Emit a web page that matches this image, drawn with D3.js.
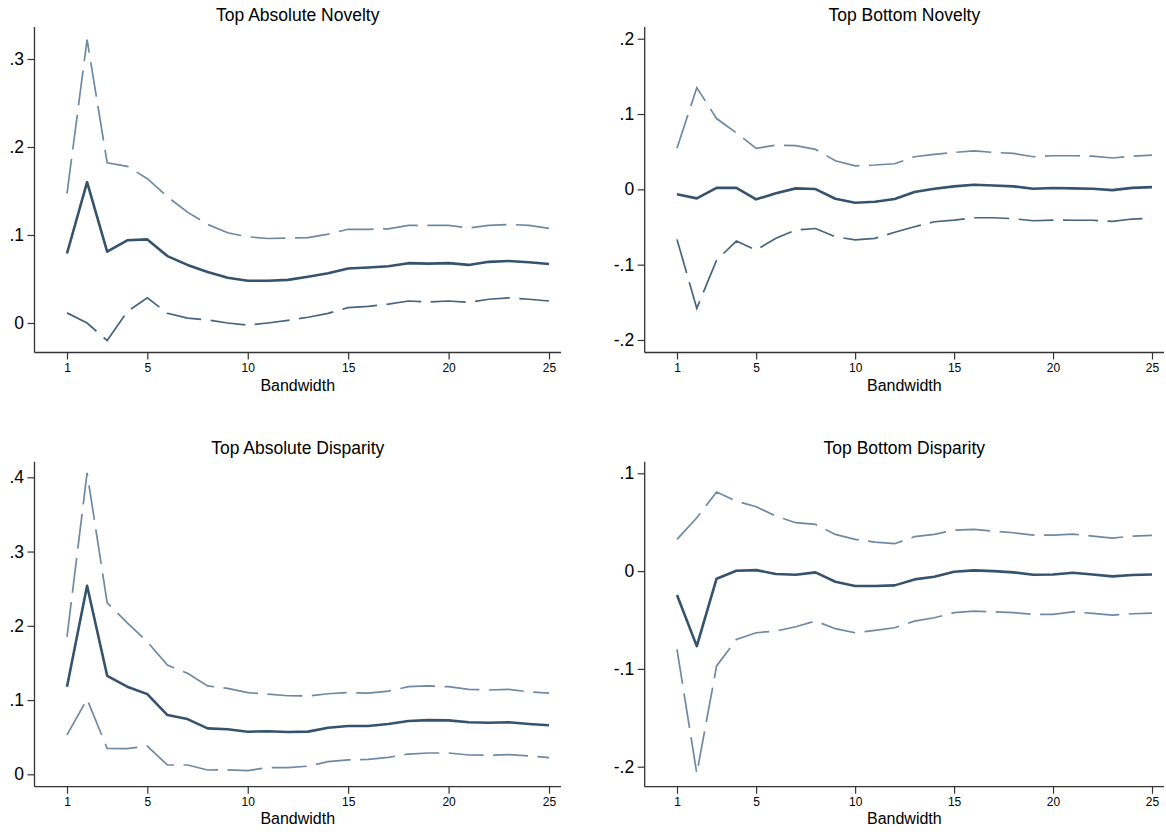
<!DOCTYPE html>
<html>
<head>
<meta charset="utf-8">
<script src="https://cdn.jsdelivr.net/npm/d3@7"></script>
<style>
  html, body { margin: 0; padding: 0; background: #fff; }
  svg { display: block; }
  text { font-family: "Liberation Sans", Arial, Helvetica, sans-serif; fill: #000; }
</style>
</head>
<body>
<svg id="chart" width="1166" height="832"></svg>
<script>
// ---------------- DATA ----------------
const bandwidth = [1,2,3,4,5,6,7,8,9,10,11,12,13,14,15,16,17,18,19,20,21,22,23,24,25];
const xTicks = [1, 5, 10, 15, 20, 25];
const xTickLabels = ["1", "5", "10", "15", "20", "25"];
const xAxisTitle = "Bandwidth";

const titles = ["Top Absolute Novelty", "Top Bottom Novelty", "Top Absolute Disparity", "Top Bottom Disparity"];

// Top Absolute Novelty
const tanEst   = [0.079, 0.160, 0.081, 0.094, 0.095, 0.076, 0.066, 0.058, 0.0515, 0.048, 0.048, 0.049, 0.0525, 0.0565, 0.062, 0.063, 0.0645, 0.068, 0.0675, 0.068, 0.066, 0.0695, 0.0705, 0.069, 0.067];
const tanUpper = [0.147, 0.322, 0.182, 0.178, 0.164, 0.1435, 0.126, 0.112, 0.1025, 0.098, 0.096, 0.0965, 0.097, 0.101, 0.1065, 0.1065, 0.107, 0.111, 0.111, 0.111, 0.108, 0.111, 0.112, 0.111, 0.1075];
const tanLower = [0.0115, 0.000, -0.020, 0.013, 0.0285, 0.011, 0.0055, 0.0035, 0.000, -0.0025, 0.000, 0.003, 0.0065, 0.011, 0.0175, 0.019, 0.0215, 0.025, 0.024, 0.025, 0.0235, 0.027, 0.0285, 0.027, 0.025];
const tanYTicks = [0, 0.1, 0.2, 0.3];
const tanYTickLabels = ["0", ".1", ".2", ".3"];

// Top Bottom Novelty
const tbnEst   = [-0.0066, -0.012, 0.002, 0.002, -0.0133, -0.0053, 0.0013, 0.0004, -0.0125, -0.0178, -0.0164, -0.0129, -0.0036, 0.0008, 0.004, 0.0061, 0.0052, 0.004, 0.0008, 0.0017, 0.0013, 0.0008, -0.001, 0.002, 0.003];
const tbnUpper = [0.0545, 0.135, 0.094, 0.075, 0.0545, 0.0588, 0.058, 0.053, 0.038, 0.0313, 0.0323, 0.034, 0.0433, 0.0465, 0.049, 0.051, 0.049, 0.0478, 0.0433, 0.0446, 0.0446, 0.044, 0.0416, 0.044, 0.0455];
const tbnLower = [-0.0664, -0.158, -0.094, -0.0687, -0.0806, -0.065, -0.054, -0.052, -0.063, -0.067, -0.065, -0.057, -0.0497, -0.043, -0.0408, -0.0377, -0.0377, -0.039, -0.0417, -0.0408, -0.041, -0.041, -0.0425, -0.0394, -0.0385];
const tbnYTicks = [-0.2, -0.1, 0, 0.1, 0.2];
const tbnYTickLabels = ["-.2", "-.1", "0", ".1", ".2"];

// Top Absolute Disparity
const tadEst   = [0.118, 0.254, 0.1327, 0.118, 0.108, 0.0798, 0.0744, 0.0619, 0.0606, 0.0574, 0.058, 0.057, 0.0575, 0.0628, 0.065, 0.065, 0.0677, 0.0717, 0.073, 0.0726, 0.070, 0.0695, 0.070, 0.0677, 0.066];
const tadUpper = [0.185, 0.406, 0.231, 0.204, 0.1785, 0.147, 0.136, 0.119, 0.1157, 0.110, 0.108, 0.1058, 0.1054, 0.1085, 0.110, 0.1094, 0.112, 0.118, 0.119, 0.118, 0.1144, 0.1135, 0.1144, 0.111, 0.1094];
const tadLower = [0.053, 0.101, 0.035, 0.0345, 0.038, 0.0125, 0.0125, 0.0058, 0.006, 0.0049, 0.009, 0.009, 0.011, 0.017, 0.0193, 0.020, 0.0229, 0.0273, 0.0287, 0.0287, 0.026, 0.0256, 0.0265, 0.0247, 0.0224];
const tadYTicks = [0, 0.1, 0.2, 0.3, 0.4];
const tadYTickLabels = ["0", ".1", ".2", ".3", ".4"];

// Top Bottom Disparity
const tbdEst   = [-0.0245, -0.0767, -0.0078, 0.0004, 0.001, -0.003, -0.0037, -0.0013, -0.0109, -0.0153, -0.0153, -0.0146, -0.0085, -0.0058, -0.0007, 0.0007, 0.000, -0.0013, -0.0037, -0.0034, -0.0017, -0.0034, -0.0054, -0.004, -0.0034];
const tbdUpper = [0.0324, 0.0546, 0.0808, 0.0716, 0.0658, 0.0562, 0.0495, 0.0478, 0.0375, 0.0324, 0.0297, 0.028, 0.0352, 0.0375, 0.0419, 0.0426, 0.0409, 0.0392, 0.0368, 0.0368, 0.0378, 0.0358, 0.0337, 0.0358, 0.0365];
const tbdLower = [-0.080, -0.2069, -0.097, -0.070, -0.063, -0.0613, -0.0569, -0.0511, -0.0589, -0.063, -0.0606, -0.0579, -0.0511, -0.0477, -0.0425, -0.0409, -0.0416, -0.0425, -0.0443, -0.0443, -0.0416, -0.0433, -0.045, -0.0436, -0.043];
const tbdYTicks = [-0.2, -0.1, 0, 0.1];
const tbdYTickLabels = ["-.2", "-.1", "0", ".1"];

// ---------------- LAYOUT / STYLE ----------------
const colEst = "#36536d";
const colUpper = "#7089a3";
const colLowerDark = "#47647f";
const colAxis = "#333";

const panels = [
  { title: titles[0], est: tanEst, up: tanUpper, lo: tanLower, yt: tanYTicks, ytl: tanYTickLabels,
    left: 34.5, right: 561, top: 27, bottom: 352.5, xr: [67, 549], yd: [0, 0.3], yr: [323, 59],
    titleY: 20.5, xlabY: 390.5, loCol: colLowerDark },
  { title: titles[1], est: tbnEst, up: tbnUpper, lo: tbnLower, yt: tbnYTicks, ytl: tbnYTickLabels,
    left: 644.7, right: 1164, top: 27, bottom: 352.5, xr: [677, 1152], yd: [-0.2, 0.2], yr: [340, 38.7],
    titleY: 20.5, xlabY: 390.5, loCol: colLowerDark },
  { title: titles[2], est: tadEst, up: tadUpper, lo: tadLower, yt: tadYTicks, ytl: tadYTickLabels,
    left: 34.5, right: 561, top: 461.7, bottom: 786.7, xr: [67, 549], yd: [0, 0.4], yr: [774.3, 477.3],
    titleY: 453.5, xlabY: 824, loCol: colUpper },
  { title: titles[3], est: tbdEst, up: tbdUpper, lo: tbdLower, yt: tbdYTicks, ytl: tbdYTickLabels,
    left: 644.7, right: 1164, top: 461.7, bottom: 786.7, xr: [677, 1152], yd: [-0.2, 0.1], yr: [766.7, 473.3],
    titleY: 453.5, xlabY: 824, loCol: colUpper }
];

const svg = d3.select("#chart");

panels.forEach(p => {
  const g = svg.append("g");
  const x = d3.scaleLinear().domain([xTicks[0], xTicks[xTicks.length - 1]]).range(p.xr);
  const y = d3.scaleLinear().domain(p.yd).range(p.yr);

  // x axis
  const xa = g.append("g").attr("transform", `translate(0,${p.bottom})`)
    .call(d3.axisBottom(x).tickValues(xTicks).tickFormat((d, i) => xTickLabels[i]).tickSize(7).tickPadding(4));
  xa.select(".domain").remove();
  xa.selectAll(".tick line").attr("stroke", colAxis).attr("stroke-width", 1.2);
  xa.selectAll(".tick text").style("font-size", "12px").attr("fill", "#000");
  g.append("line").attr("x1", p.left).attr("x2", p.right).attr("y1", p.bottom).attr("y2", p.bottom)
    .attr("stroke", colAxis).attr("stroke-width", 1.3);

  // y axis
  const ya = g.append("g").attr("transform", `translate(${p.left},0)`)
    .call(d3.axisLeft(y).tickValues(p.yt).tickFormat((d, i) => p.ytl[i]).tickSize(7).tickPadding(3.5));
  ya.select(".domain").remove();
  ya.selectAll(".tick line").attr("stroke", colAxis).attr("stroke-width", 1.2);
  ya.selectAll(".tick text").style("font-size", "17.5px").attr("fill", "#000");
  g.append("line").attr("x1", p.left).attr("x2", p.left).attr("y1", p.top).attr("y2", p.bottom)
    .attr("stroke", colAxis).attr("stroke-width", 1.3);

  const line = d3.line().x((d, i) => x(bandwidth[i])).y(d => y(d));

  g.append("path").datum(p.up).attr("d", line).attr("fill", "none")
    .attr("stroke", colUpper).attr("stroke-width", 1.7).attr("stroke-dasharray", "35,9.5");
  g.append("path").datum(p.lo).attr("d", line).attr("fill", "none")
    .attr("stroke", p.loCol).attr("stroke-width", 1.7).attr("stroke-dasharray", "35,9.5");
  g.append("path").datum(p.est).attr("d", line).attr("fill", "none")
    .attr("stroke", colEst).attr("stroke-width", 2.6).attr("stroke-linejoin", "round");

  const cx = (p.left + p.right) / 2;
  g.append("text").attr("x", cx).attr("y", p.titleY).attr("text-anchor", "middle")
    .style("font-size", "17.5px").text(p.title);
  g.append("text").attr("x", cx).attr("y", p.xlabY).attr("text-anchor", "middle")
    .style("font-size", "16px").text(xAxisTitle);
});
</script>
</body>
</html>
